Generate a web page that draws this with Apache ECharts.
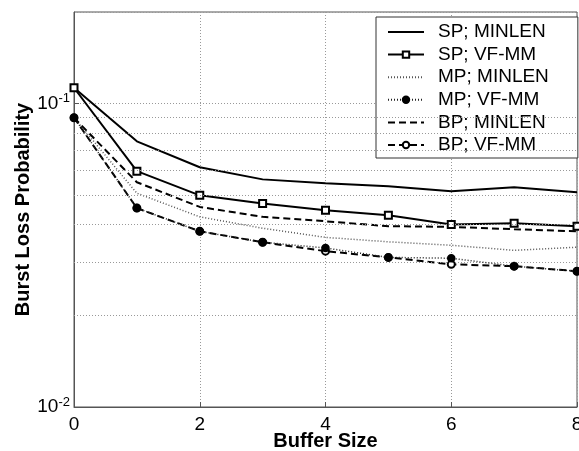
<!DOCTYPE html>
<html style="height: 100%">
<head>
<meta charset="utf-8">
<script src="https://cdn.jsdelivr.net/npm/echarts@6/dist/echarts.min.js"></script>
</head>
<body style="height: 100%; margin: 0; background: #fff">
<div id="container" style="width: 579px; height: 451px"></div>
<script type="text/javascript">
// values
var bufferSize = [0, 1, 2, 3, 4, 5, 6, 7, 8];
var spMinlen = [0.1126, 0.075, 0.0616, 0.0562, 0.0546, 0.0533, 0.0514, 0.0529, 0.0510];
var spVfmm   = [0.1126, 0.0598, 0.0498, 0.0468, 0.0445, 0.0428, 0.0399, 0.0403, 0.0394];
var mpMinlen = [0.0897, 0.0506, 0.0423, 0.0388, 0.0362, 0.0350, 0.0341, 0.0328, 0.0336];
var mpVfmm   = [0.0897, 0.0452, 0.0379, 0.0349, 0.0334, 0.0311, 0.0309, 0.0291, 0.0280];
var bpMinlen = [0.0897, 0.0550, 0.0456, 0.0423, 0.0409, 0.0394, 0.0392, 0.0385, 0.0379];
var bpVfmm   = [0.0897, 0.0452, 0.0379, 0.0349, 0.0326, 0.0311, 0.0295, 0.0291, 0.0280];
var minorGrid = [0.02, 0.03, 0.04, 0.05, 0.06, 0.07, 0.08, 0.09];

function pairs(ys) {
    return bufferSize.map(function (x, i) { return [x, ys[i]]; });
}

var dom = document.getElementById("container");
var myChart = echarts.init(dom);
var font = 'Liberation Sans';
var dashed = [7, 4];
var dotted = [1, 2];

function line(name, data, type, symbol, color) {
    return {
        name: name,
        type: 'line',
        data: pairs(data),
        symbol: symbol || 'none',
        symbolSize: 7,
        showSymbol: !!symbol,
        animation: false,
        lineStyle: {color: color || '#000', width: type === 'dotted' ? 1.5 : 2,
                    type: type === 'dotted' ? dotted : (type === 'dashed' ? dashed : 'solid')},
        itemStyle: {color: '#000', borderColor: '#000', borderWidth: 1.5}
    };
}

var series = [
    line('SP; MINLEN', spMinlen, 'solid'),
    line('SP; VF-MM', spVfmm, 'solid', 'emptyRect'),
    line('MP; MINLEN', mpMinlen, 'dotted', null, '#555'),
    line('MP; VF-MM', mpVfmm, 'dotted', 'circle', '#222'),
    line('BP; MINLEN', bpMinlen, 'dashed'),
    line('BP; VF-MM', bpVfmm, 'dashed', 'emptyCircle')
];
series[3].z = 5;  // filled dots sit on top of the open circles
series[0].markLine = {
    silent: true,
    symbol: ['none', 'none'],
    label: {show: false},
    animation: false,
    lineStyle: {color: '#999', width: 1, type: [1, 2]},
    data: minorGrid.map(function (v) { return {yAxis: v}; })
};

var option = {
    backgroundColor: '#fff',
    grid: {left: 74, top: 12, right: 2, bottom: 44, outerBoundsMode: 'none',
           show: true, borderColor: '#555', borderWidth: 1},
    legend: {
        left: 376, top: 17,
        orient: 'vertical',
        padding: [4.5, 29, 2.5, 11],
        itemWidth: 36, itemHeight: 8, itemGap: 1.6,
        borderColor: '#333', borderWidth: 1, backgroundColor: '#fff',
        textStyle: {fontFamily: font, fontSize: 19, color: '#000', lineHeight: 21, padding: [0, 0, 0, 9]},
        data: series.map(function (s) {
            return s.symbol === 'none' ? {name: s.name, itemStyle: {opacity: 0}} : {name: s.name};
        })
    },
    xAxis: {
        type: 'value', min: 0, max: 8, interval: 2,
        name: 'Buffer Size', nameLocation: 'middle', nameGap: 24, nameMoveOverlap: false,
        nameTextStyle: {fontFamily: font, fontSize: 20, fontWeight: 'bold', color: '#000'},
        axisLine: {show: true, lineStyle: {color: '#555'}},
        axisTick: {inside: true, length: 5, lineStyle: {color: '#555'}},
        axisLabel: {fontFamily: font, fontSize: 19, color: '#000', margin: 8},
        splitLine: {show: true, lineStyle: {color: '#999', type: [1, 2]}}
    },
    yAxis: {
        type: 'log', logBase: 10, min: 0.01, max: 0.2,
        name: 'Burst Loss Probability', nameLocation: 'middle', nameGap: 41, nameMoveOverlap: false,
        nameTextStyle: {fontFamily: font, fontSize: 20, fontWeight: 'bold', color: '#000'},
        axisLine: {show: true, lineStyle: {color: '#555'}},
        axisTick: {inside: true, length: 5, lineStyle: {color: '#555'}},
        axisLabel: {
            margin: 4,
            showMaxLabel: false,
            formatter: function (v) {
                if (Math.abs(v - 0.01) < 1e-6) return '{b|10}{s|-2}';
                if (Math.abs(v - 0.1) < 1e-6) return '{b|10}{s|-1}';
                return '';
            },
            rich: {
                b: {fontFamily: font, fontSize: 19, color: '#000'},
                s: {fontFamily: font, fontSize: 13, color: '#000', padding: [0, 0, 10, 0]}
            }
        },
        splitLine: {show: true, lineStyle: {color: '#999', type: [1, 2]}}
    },
    series: series
};

myChart.setOption(option);
</script>
</body>
</html>
